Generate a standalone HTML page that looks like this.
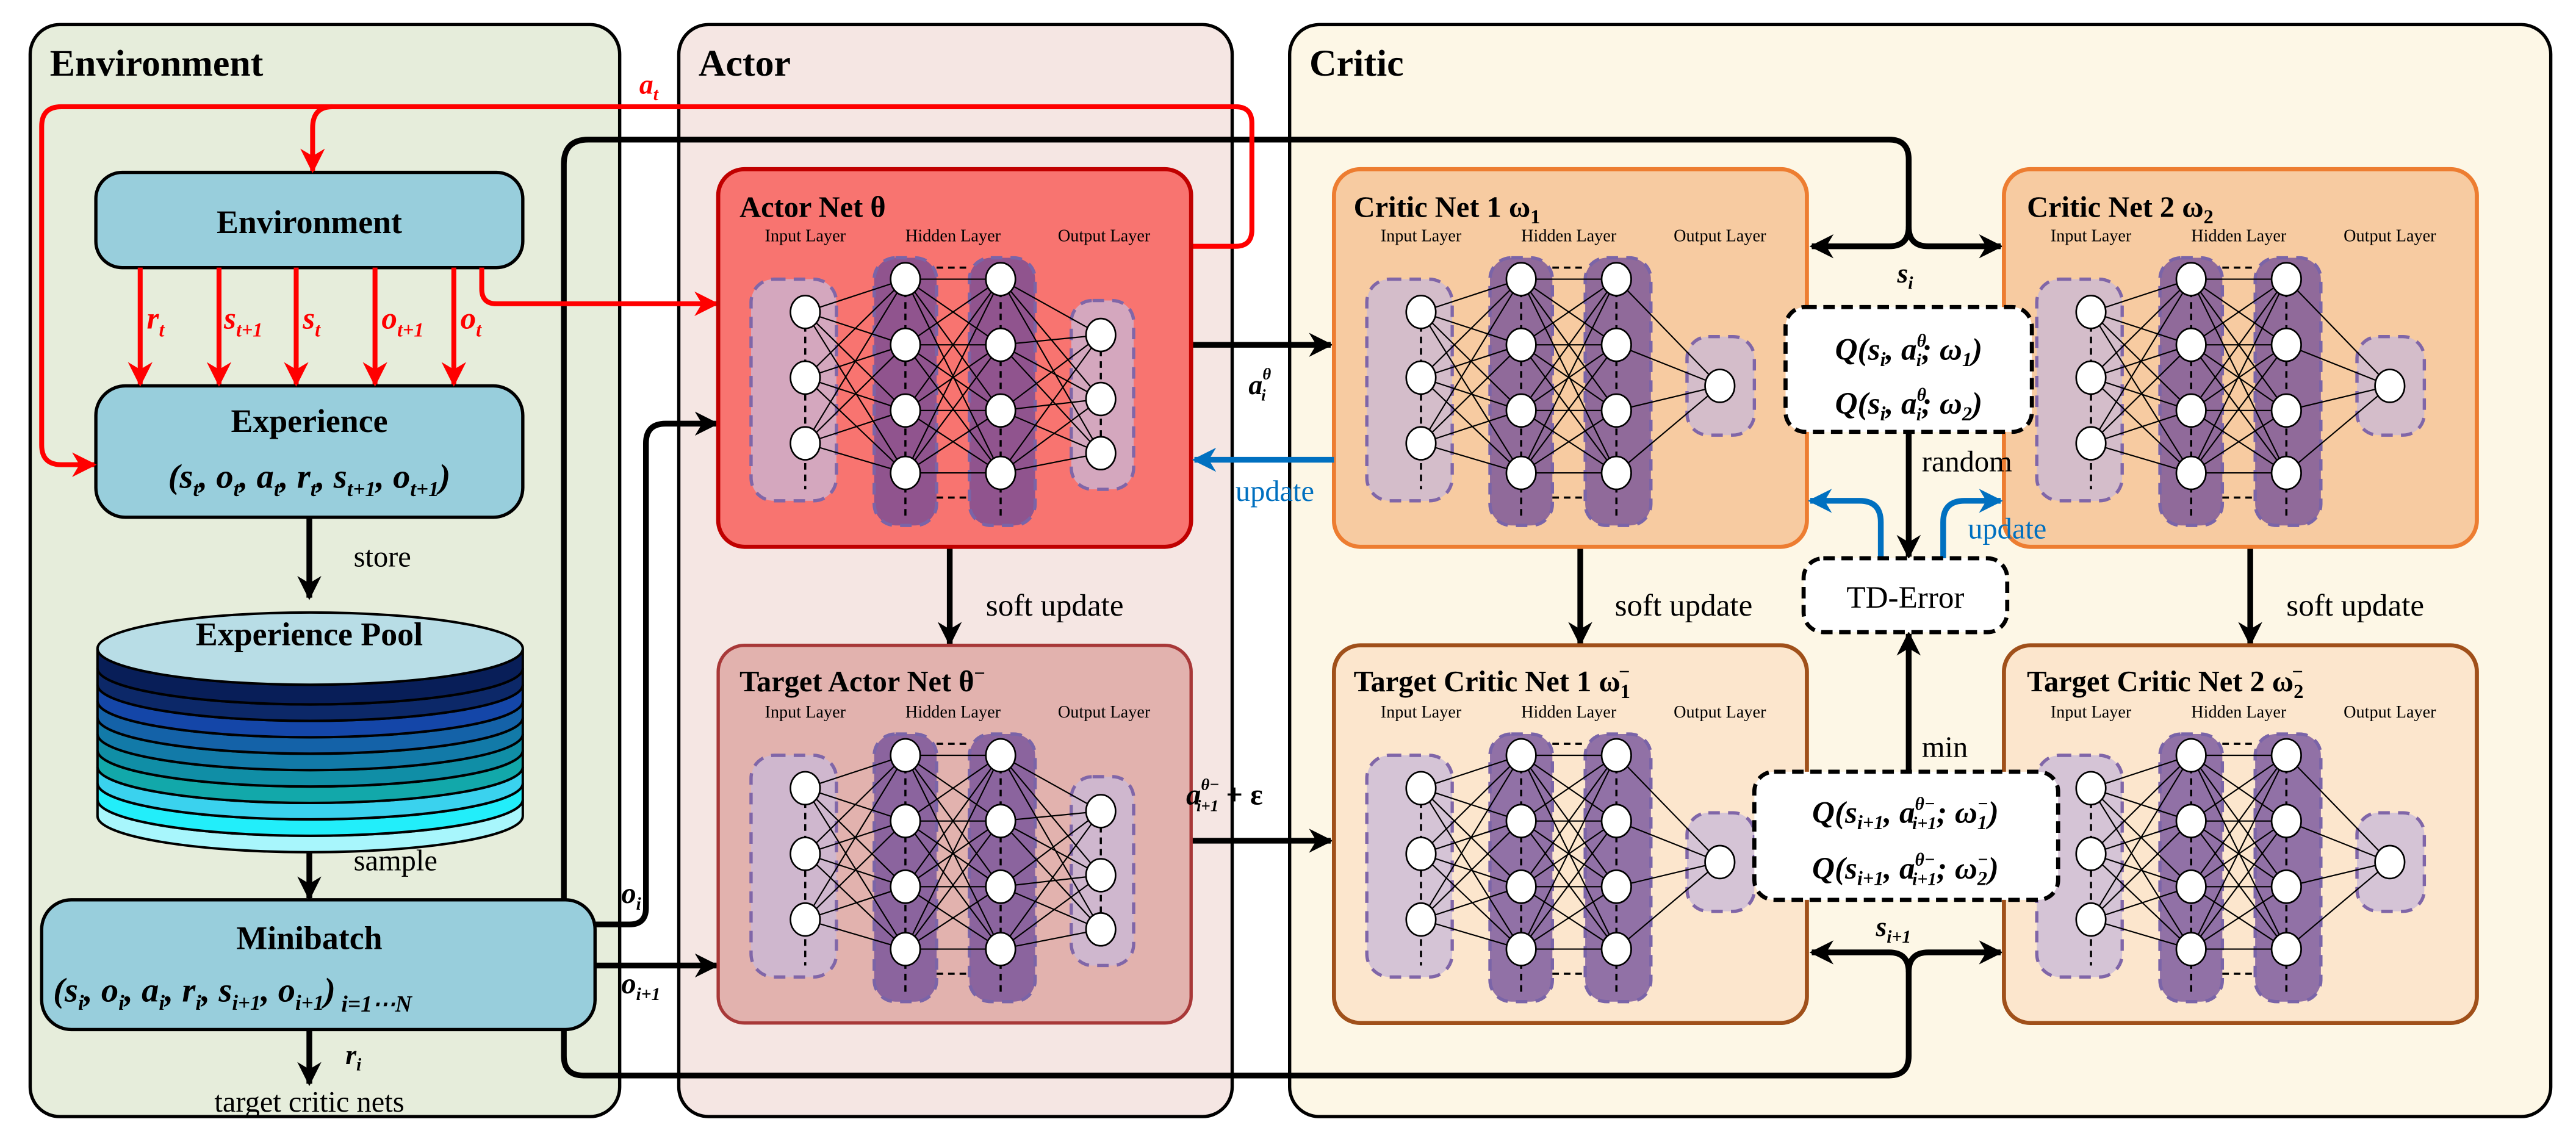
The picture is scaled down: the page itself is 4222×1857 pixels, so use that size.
<!DOCTYPE html>
<html><head><meta charset="utf-8"><style>
html,body{margin:0;padding:0;background:#fff}
svg{display:block;font-family:"Liberation Serif","Times New Roman",serif}
text,tspan{font-family:"Liberation Serif","Times New Roman",serif}
.b{font-weight:bold}
.m{font-style:italic;font-weight:bold}
</style></head><body>
<svg width="4222" height="1857" viewBox="0 0 1568 690" xmlns="http://www.w3.org/2000/svg" font-family="Liberation Serif, serif">
<defs>
<marker id="ak" viewBox="0 0 10 10" refX="9" refY="5" markerWidth="4.2" markerHeight="4.2" orient="auto" markerUnits="strokeWidth"><path d="M0 0L10 5L0 10L3 5Z" fill="#000"/></marker>
<marker id="ar" viewBox="0 0 10 10" refX="9" refY="5" markerWidth="5" markerHeight="5" orient="auto" markerUnits="strokeWidth"><path d="M0 0L10 5L0 10L3 5Z" fill="#f00"/></marker>
<marker id="ab" viewBox="0 0 10 10" refX="9" refY="5" markerWidth="4.2" markerHeight="4.2" orient="auto" markerUnits="strokeWidth"><path d="M0 0L10 5L0 10L3 5Z" fill="#0070c0"/></marker>
<g id="cols">
<rect x="20" y="67" width="52" height="135" rx="14" fill="#c8b8d8" fill-opacity="0.75" stroke="#8066a8" stroke-width="2" stroke-dasharray="7 5"/>
<rect x="95" y="54" width="38" height="163" rx="13" fill="#6e4a98" fill-opacity="0.75" stroke="#7a64a8" stroke-width="2" stroke-dasharray="7 5"/>
<rect x="153" y="54" width="40" height="163" rx="13" fill="#6e4a98" fill-opacity="0.75" stroke="#7a64a8" stroke-width="2" stroke-dasharray="7 5"/>
<path d="M53 95V195M114 60V212M172 60V212M133 60H153M133 200H153" stroke="#000" stroke-width="1.3" stroke-dasharray="4 3" fill="none"/>
<path d="M53 87L114 67M53 87L114 107M53 87L114 147M53 87L114 185M53 127L114 67M53 127L114 107M53 127L114 147M53 127L114 185M53 167L114 67M53 167L114 107M53 167L114 147M53 167L114 185M114 67L172 67M114 67L172 107M114 67L172 147M114 67L172 185M114 107L172 67M114 107L172 107M114 107L172 147M114 107L172 185M114 147L172 67M114 147L172 107M114 147L172 147M114 147L172 185M114 185L172 67M114 185L172 107M114 185L172 147M114 185L172 185" stroke="#000" stroke-width="0.8" fill="none"/>
</g>
<g id="inh" fill="#fff" stroke="#000" stroke-width="1">
<ellipse cx="53" cy="87" rx="9" ry="10"/><ellipse cx="53" cy="127" rx="9" ry="10"/><ellipse cx="53" cy="167" rx="9" ry="10"/>
<ellipse cx="114" cy="67" rx="9" ry="10"/><ellipse cx="114" cy="107" rx="9" ry="10"/><ellipse cx="114" cy="147" rx="9" ry="10"/><ellipse cx="114" cy="185" rx="9" ry="10"/>
<ellipse cx="172" cy="67" rx="9" ry="10"/><ellipse cx="172" cy="107" rx="9" ry="10"/><ellipse cx="172" cy="147" rx="9" ry="10"/><ellipse cx="172" cy="185" rx="9" ry="10"/>
</g>
<g id="anet">
<use href="#cols"/>
<rect x="215" y="80" width="38" height="115" rx="13" fill="#c8b8d8" fill-opacity="0.75" stroke="#8066a8" stroke-width="2" stroke-dasharray="7 5"/>
<path d="M172 67L233 101M172 67L233 140M172 67L233 173M172 107L233 101M172 107L233 140M172 107L233 173M172 147L233 101M172 147L233 140M172 147L233 173M172 185L233 101M172 185L233 140M172 185L233 173" stroke="#000" stroke-width="0.8"/>
<path d="M233 110V165" stroke="#000" stroke-width="1.3" stroke-dasharray="4 3"/>
<use href="#inh"/>
<g fill="#fff" stroke="#000"><ellipse cx="233" cy="101" rx="9" ry="10"/><ellipse cx="233" cy="140" rx="9" ry="10"/><ellipse cx="233" cy="173" rx="9" ry="10"/></g>
</g>
<g id="cnet">
<use href="#cols"/>
<rect x="215" y="102" width="41" height="60" rx="13" fill="#c8b8d8" fill-opacity="0.75" stroke="#8066a8" stroke-width="2" stroke-dasharray="7 5"/>
<path d="M172 67L235 132M172 107L235 132M172 147L235 132M172 185L235 132" stroke="#000" stroke-width="0.8"/>
<use href="#inh"/>
<ellipse cx="235" cy="132" rx="9" ry="10" fill="#fff" stroke="#000"/>
</g>
</defs>

<rect x="18" y="15" width="359" height="665" rx="18" fill="#e6eddb" stroke="#000" stroke-width="2"/>
<rect x="413" y="15" width="337" height="665" rx="18" fill="#f5e6e3" stroke="#000" stroke-width="2"/>
<rect x="785" y="15" width="768" height="665" rx="18" fill="#fdf7e6" stroke="#000" stroke-width="2"/>
<text x="30" y="46" class="b" font-size="23">Environment</text>
<text x="425" y="46" class="b" font-size="23">Actor</text>
<text x="797" y="46" class="b" font-size="23">Critic</text>

<rect x="58" y="105" width="260" height="58" rx="16" fill="#98cedc" stroke="#000" stroke-width="2"/>
<text x="188" y="142" class="b" font-size="20" text-anchor="middle">Environment</text>
<rect x="58" y="235" width="260" height="80" rx="18" fill="#98cedc" stroke="#000" stroke-width="2"/>
<text x="188" y="263" class="b" font-size="20" text-anchor="middle">Experience</text>
<text x="188" y="297" class="m" font-size="21" text-anchor="middle">(s<tspan font-size="13" dy="5">t</tspan><tspan dy="-5">, o</tspan><tspan font-size="13" dy="5">t</tspan><tspan dy="-5">, a</tspan><tspan font-size="13" dy="5">t</tspan><tspan dy="-5">, r</tspan><tspan font-size="13" dy="5">t</tspan><tspan dy="-5">, s</tspan><tspan font-size="13" dy="5">t+1</tspan><tspan dy="-5">, o</tspan><tspan font-size="13" dy="5">t+1</tspan><tspan dy="-5">)</tspan></text>

<path d="M188 315V364" stroke="#000" stroke-width="3.5" marker-end="url(#ak)"/>
<text x="215" y="345" font-size="18">store</text>

<g stroke="#000" stroke-width="1.5">
<path d="M59 487A129.5 22 0 0 0 318 487V497A129.5 22 0 0 1 59 497Z" fill="#a8f6fc"/>
<path d="M59 477A129.5 22 0 0 0 318 477V487A129.5 22 0 0 1 59 487Z" fill="#22eefa"/>
<path d="M59 467A129.5 22 0 0 0 318 467V477A129.5 22 0 0 1 59 477Z" fill="#3ad2ee"/>
<path d="M59 457A129.5 22 0 0 0 318 457V467A129.5 22 0 0 1 59 467Z" fill="#12a8aa"/>
<path d="M59 447A129.5 22 0 0 0 318 447V457A129.5 22 0 0 1 59 457Z" fill="#108ea6"/>
<path d="M59 437A129.5 22 0 0 0 318 437V447A129.5 22 0 0 1 59 447Z" fill="#127aa8"/>
<path d="M59 427A129.5 22 0 0 0 318 427V437A129.5 22 0 0 1 59 437Z" fill="#1462a8"/>
<path d="M59 417A129.5 22 0 0 0 318 417V427A129.5 22 0 0 1 59 427Z" fill="#1446a8"/>
<path d="M59 407A129.5 22 0 0 0 318 407V417A129.5 22 0 0 1 59 417Z" fill="#0c2868"/>
<path d="M59 395A129.5 22 0 0 0 318 395V407A129.5 22 0 0 1 59 407Z" fill="#081e58"/>
<ellipse cx="188.5" cy="395" rx="129.5" ry="22" fill="#b8dde6"/>
</g>
<text x="188" y="393" class="b" font-size="20" text-anchor="middle">Experience Pool</text>

<path d="M188 519V547" stroke="#000" stroke-width="3.5" marker-end="url(#ak)"/>
<text x="215" y="530" font-size="18">sample</text>

<rect x="25" y="548" width="337" height="79" rx="18" fill="#98cedc" stroke="#000" stroke-width="2"/>
<text x="188" y="578" class="b" font-size="20" text-anchor="middle">Minibatch</text>
<text x="32" y="610" class="m" font-size="21">(s<tspan font-size="13" dy="5">i</tspan><tspan dy="-5">, o</tspan><tspan font-size="13" dy="5">i</tspan><tspan dy="-5">, a</tspan><tspan font-size="13" dy="5">i</tspan><tspan dy="-5">, r</tspan><tspan font-size="13" dy="5">i</tspan><tspan dy="-5">, s</tspan><tspan font-size="13" dy="5">i+1</tspan><tspan dy="-5">, o</tspan><tspan font-size="13" dy="5">i+1</tspan><tspan dy="-5">)</tspan><tspan font-size="14" dy="6"> i=1⋯N</tspan></text>

<path d="M188 627V660" stroke="#000" stroke-width="3.5" marker-end="url(#ak)"/>
<text x="210" y="648" class="m" font-size="17" font-weight="normal">r<tspan font-size="11" dy="4">i</tspan></text>
<text x="188" y="677" font-size="18" text-anchor="middle">target critic nets</text>

<g fill="none" stroke="#000" stroke-width="3.5">
<path d="M343 548V100Q343 85 358 85H1150Q1162 85 1162 97V140"/>
<path d="M1162 138Q1162 150 1150 150H1103" marker-end="url(#ak)"/>
<path d="M1162 138Q1162 150 1174 150H1218" marker-end="url(#ak)"/>
<path d="M343 627V643Q343 655 355 655H1150Q1162 655 1162 643V590"/>
<path d="M1162 592Q1162 580 1150 580H1103" marker-end="url(#ak)"/>
<path d="M1162 592Q1162 580 1174 580H1218" marker-end="url(#ak)"/>
<path d="M362 563H383Q393 563 393 553V270Q393 258 405 258H436" marker-end="url(#ak)"/>
<path d="M362 588H436" marker-end="url(#ak)"/>
<path d="M725 210H810" marker-end="url(#ak)"/>
<path d="M725 512H810" marker-end="url(#ak)"/>
<path d="M578 333V392" marker-end="url(#ak)"/>
<path d="M962 333V392" marker-end="url(#ak)"/>
<path d="M1370 333V392" marker-end="url(#ak)"/>
<path d="M1162 263V339" marker-end="url(#ak)"/>
<path d="M1162 470V386" marker-end="url(#ak)"/>
</g>
<text x="1155" y="172" class="m" font-size="17" font-weight="normal">s<tspan font-size="11" dy="4">i</tspan></text>
<text x="1142" y="570" class="m" font-size="17" font-weight="normal">s<tspan font-size="11" dy="4">i+1</tspan></text>
<text x="378" y="550" class="m" font-size="18" font-weight="normal">o<tspan font-size="11" dy="4">i</tspan></text>
<text x="378" y="605" class="m" font-size="18" font-weight="normal">o<tspan font-size="11" dy="4">i+1</tspan></text>

<g fill="none" stroke="#f00" stroke-width="3">
<path d="M725 150H752Q762 150 762 140V75Q762 65 752 65H37Q25 65 25 77V271Q25 283 37 283H57" marker-end="url(#ar)"/>
<path d="M202 65Q190 65 190 78V104" marker-end="url(#ar)"/>
<path d="M85 163V234" marker-end="url(#ar)"/>
<path d="M133 163V234" marker-end="url(#ar)"/>
<path d="M180 163V234" marker-end="url(#ar)"/>
<path d="M228 163V234" marker-end="url(#ar)"/>
<path d="M276 163V234" marker-end="url(#ar)"/>
<path d="M293 163V176Q293 185 302 185H436" marker-end="url(#ar)"/>
</g>
<text x="389" y="57" class="m" font-weight="normal" font-size="17" fill="#f00">a<tspan font-size="11" dy="4">t</tspan></text>
<text x="89" y="200" class="m" font-weight="normal" font-size="19" fill="#f00">r<tspan font-size="12" dy="5">t</tspan></text>
<text x="136" y="200" class="m" font-weight="normal" font-size="19" fill="#f00">s<tspan font-size="12" dy="5">t+1</tspan></text>
<text x="184" y="200" class="m" font-weight="normal" font-size="19" fill="#f00">s<tspan font-size="12" dy="5">t</tspan></text>
<text x="232" y="200" class="m" font-weight="normal" font-size="19" fill="#f00">o<tspan font-size="12" dy="5">t+1</tspan></text>
<text x="280" y="200" class="m" font-weight="normal" font-size="19" fill="#f00">o<tspan font-size="12" dy="5">t</tspan></text>

<rect x="437" y="103" width="288" height="230" rx="16" fill="#f87470" stroke="#c00000" stroke-width="2.5"/>
<g transform="translate(437,103)"><use href="#anet"/></g>
<text x="450" y="132" class="b" font-size="18">Actor Net θ</text>
<rect x="437" y="393" width="288" height="230" rx="16" fill="#e2b2ae" stroke="#a83838" stroke-width="2"/>
<g transform="translate(437,393)"><use href="#anet"/></g>
<text x="450" y="421" class="b" font-size="18">Target Actor Net θ<tspan font-size="12" dy="-7">−</tspan></text>

<rect x="812" y="103" width="288" height="230" rx="16" fill="#f7cba1" stroke="#ed7d31" stroke-width="2.5"/>
<g transform="translate(812,103)"><use href="#cnet"/></g>
<text x="824" y="132" class="b" font-size="18">Critic Net 1   ω<tspan font-size="12" dy="4">1</tspan></text>
<rect x="1220" y="103" width="288" height="230" rx="16" fill="#f7cba1" stroke="#ed7d31" stroke-width="2.5"/>
<g transform="translate(1220,103)"><use href="#cnet"/></g>
<text x="1234" y="132" class="b" font-size="18">Critic Net 2  ω<tspan font-size="12" dy="4">2</tspan></text>
<rect x="812" y="393" width="288" height="230" rx="16" fill="#fce6cd" stroke="#a0501a" stroke-width="2.5"/>
<g transform="translate(812,393)"><use href="#cnet"/></g>
<text x="824" y="421" class="b" font-size="18">Target Critic Net 1  ω<tspan font-size="12" dy="4">1</tspan><tspan font-size="12" dx="-7" dy="-12">−</tspan></text>
<rect x="1220" y="393" width="288" height="230" rx="16" fill="#fce6cd" stroke="#a0501a" stroke-width="2.5"/>
<g transform="translate(1220,393)"><use href="#cnet"/></g>
<text x="1234" y="421" class="b" font-size="18">Target Critic Net 2  ω<tspan font-size="12" dy="4">2</tspan><tspan font-size="12" dx="-7" dy="-12">−</tspan></text>

<g text-anchor="middle" font-size="10.5">
<text x="490" y="147">Input Layer</text><text x="580" y="147">Hidden Layer</text><text x="672" y="147">Output Layer</text>
<text x="490" y="437">Input Layer</text><text x="580" y="437">Hidden Layer</text><text x="672" y="437">Output Layer</text>
<text x="865" y="147">Input Layer</text><text x="955" y="147">Hidden Layer</text><text x="1047" y="147">Output Layer</text>
<text x="1273" y="147">Input Layer</text><text x="1363" y="147">Hidden Layer</text><text x="1455" y="147">Output Layer</text>
<text x="865" y="437">Input Layer</text><text x="955" y="437">Hidden Layer</text><text x="1047" y="437">Output Layer</text>
<text x="1273" y="437">Input Layer</text><text x="1363" y="437">Hidden Layer</text><text x="1455" y="437">Output Layer</text>
</g>

<text x="600" y="375" font-size="19">soft update</text>
<text x="983" y="375" font-size="19">soft update</text>
<text x="1392" y="375" font-size="19">soft update</text>

<text x="760" y="240" class="m" font-size="17" font-weight="normal">a<tspan font-size="10" dy="-9">θ</tspan><tspan font-size="10" dx="-6" dy="13">i</tspan></text>
<text x="722" y="490" class="m" font-size="18" font-weight="normal">a<tspan font-size="10" dy="-9">θ−</tspan><tspan font-size="10" dx="-14" dy="13">i+1</tspan><tspan dy="-4" font-style="normal"> + ε</tspan></text>

<path d="M812 280H727" stroke="#0070c0" stroke-width="3.5" fill="none" marker-end="url(#ab)"/>
<text x="752" y="305" font-size="18" fill="#0070c0">update</text>
<path d="M1145 340V318Q1145 305 1132 305H1102" stroke="#0070c0" stroke-width="3.5" fill="none" marker-end="url(#ab)"/>
<path d="M1183 340V318Q1183 305 1196 305H1218" stroke="#0070c0" stroke-width="3.5" fill="none" marker-end="url(#ab)"/>
<text x="1198" y="328" font-size="18" fill="#0070c0">update</text>

<rect x="1087" y="187" width="150" height="76" rx="12" fill="#fff" stroke="#000" stroke-width="2.5" stroke-dasharray="7 4"/>
<text x="1162" y="219" class="m" font-size="19" text-anchor="middle">Q(s<tspan font-size="12" dy="4">i</tspan><tspan dy="-4">, a</tspan><tspan font-size="11" dy="-8">θ</tspan><tspan font-size="11" dx="-6" dy="12">i</tspan><tspan dy="-4">; ω</tspan><tspan font-size="12" dy="4">1</tspan><tspan dy="-4">)</tspan></text>
<text x="1162" y="252" class="m" font-size="19" text-anchor="middle">Q(s<tspan font-size="12" dy="4">i</tspan><tspan dy="-4">, a</tspan><tspan font-size="11" dy="-8">θ</tspan><tspan font-size="11" dx="-6" dy="12">i</tspan><tspan dy="-4">; ω</tspan><tspan font-size="12" dy="4">2</tspan><tspan dy="-4">)</tspan></text>
<text x="1170" y="287" font-size="18">random</text>

<rect x="1098" y="340" width="124" height="45" rx="12" fill="#fff" stroke="#000" stroke-width="2.5" stroke-dasharray="7 4"/>
<text x="1160" y="370" font-size="19" text-anchor="middle">TD-Error</text>
<text x="1170" y="461" font-size="18">min</text>

<rect x="1068" y="470" width="185" height="78" rx="12" fill="#fff" stroke="#000" stroke-width="2.5" stroke-dasharray="7 4"/>
<text x="1160" y="501" class="m" font-size="19" text-anchor="middle">Q(s<tspan font-size="12" dy="4">i+1</tspan><tspan dy="-4">, a</tspan><tspan font-size="11" dy="-8">θ−</tspan><tspan font-size="11" dx="-14" dy="12">i+1</tspan><tspan dy="-4">; ω</tspan><tspan font-size="12" dy="4">1</tspan><tspan font-size="11" dx="-6" dy="-12">−</tspan><tspan dy="8">)</tspan></text>
<text x="1160" y="535" class="m" font-size="19" text-anchor="middle">Q(s<tspan font-size="12" dy="4">i+1</tspan><tspan dy="-4">, a</tspan><tspan font-size="11" dy="-8">θ−</tspan><tspan font-size="11" dx="-14" dy="12">i+1</tspan><tspan dy="-4">; ω</tspan><tspan font-size="12" dy="4">2</tspan><tspan font-size="11" dx="-6" dy="-12">−</tspan><tspan dy="8">)</tspan></text>
</svg>
</body></html>
